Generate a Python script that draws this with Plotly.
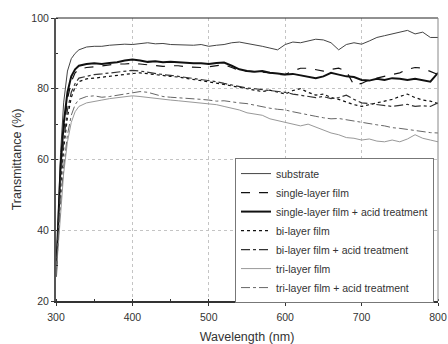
import plotly.graph_objects as go

wavelength = [300, 303, 306, 310, 315, 320, 325, 330] + list(range(340, 801, 10))

substrate = [27, 45, 62, 76, 85, 88.5, 90, 91,
             91.8, 92, 92, 92.3, 92.5, 92.6, 92.5, 92.8, 93, 92.7,
             92.8, 92.5, 92.4, 92.2, 92.3, 92.5, 92, 92.3, 92.5, 93,
             93.2, 92.8, 92.5, 92, 91.5, 91, 92.5, 93.2, 93, 93.5,
             94, 93.8, 93, 91, 92.5, 93, 92.6, 93.5, 94.5, 95,
             95.5, 96, 96.5, 95.5, 96, 94.5, 94.5]

single = [27, 41, 56, 68, 77, 82, 84.5, 85.5,
          86, 86.2, 86.5, 86.8, 87, 87, 87.2, 87, 86.8, 86.5,
          86.3, 86.5, 86.5, 86.2, 86, 86, 86.2, 86.5, 86.8, 86,
          85.2, 85, 84.8, 84.5, 84.5, 84, 84, 85, 85.8, 85.8,
          85.5, 85, 85.5, 85.8, 85, 81, 81.5, 82.5, 83, 83.5,
          84, 84.5, 85.5, 86, 85.8, 85, 84]

single_acid = [27, 42, 58, 70, 79, 83.5, 85.5, 86.5,
               87, 87.2, 87, 87.3, 87.5, 88, 88.3, 88, 87.6, 87.8,
               87.5, 87.6, 87.4, 87.3, 87.2, 87.2, 87, 87.3, 87.4, 86.5,
               85.5, 85, 84.8, 85, 84.5, 84.3, 84, 84.2, 83.8, 83.5,
               83, 83.5, 84.5, 84, 83.5, 83.3, 82.5, 82.3, 82.8, 82.5,
               83, 82.8, 82.5, 82.8, 82.3, 82, 84.5]

bi = [27, 39, 52, 63, 72, 77.5, 80.5, 82,
      82.8, 83, 83.3, 83.5, 83.8, 84, 84.3, 84.5, 84.2, 84,
      83.7, 83.5, 83.3, 83, 82.6, 82.3, 82, 81.6, 81.2, 80.8,
      80.5, 80, 79.5, 79.2, 79.6, 79, 78.5, 79.5, 80, 79,
      78.2, 78.5, 77.5, 77, 76.2, 75.5, 75, 75.5, 76, 76.5,
      77, 77.8, 78.5, 77.5, 76.8, 76.5, 75.8]

bi_acid = [27, 40, 54, 65, 74, 79, 81.5, 83,
           83.5, 84, 84.2, 84.5, 84.8, 85, 85.2, 85, 84.6, 84.3,
           84, 83.8, 83.5, 83.2, 83, 82.5, 82.3, 82, 81.5, 81,
           80.6, 80.2, 80, 79.8, 79.5, 79.2, 79, 78.5, 78.2, 78,
           77.5, 77.8, 77.2, 77.5, 78.2, 77, 76, 75.8, 75.5, 75.2,
           75, 75.3, 75.6, 75, 75.2, 75, 76]

tri = [27, 36, 46, 56, 65, 70.5, 73.5, 75,
       76, 76.5, 76.8, 77.2, 77.5, 77.8, 78, 77.8, 77.5, 77.2,
       77, 76.8, 76.6, 76.4, 76.2, 76, 75.8, 75.5, 75, 74.5,
       74, 73.2, 72.8, 72.5, 71.5, 71, 70.5, 69.8, 69.5, 70,
       69.2, 68.5, 67.5, 67, 66.2, 66, 65.5, 65.8, 65.2, 65,
       65.5, 65, 65.8, 67, 66, 65.5, 65]

tri_acid = [27, 37, 48, 58, 67, 72.5, 75.5, 77,
            77.8, 78, 77.6, 77.8, 78.2, 78.5, 78.8, 79.2, 79, 78.3,
            77.8, 77.6, 77.5, 77.3, 77.2, 77, 76.8, 76.5, 76.6, 76.2,
            76, 75.8, 75.3, 74.8, 74.5, 74.2, 74, 73.5, 73, 72.5,
            72.2, 71.8, 71.5, 71.6, 71.2, 70.8, 70.5, 70, 69.8, 69.5,
            69, 68.8, 68.5, 68.2, 67.8, 67.6, 67.5]

series_names = ["substrate", "single-layer film", "single-layer film + acid treatment",
                "bi-layer film", "bi-layer film + acid treatment",
                "tri-layer film", "tri-layer film + acid treatment"]
series_values = [substrate, single, single_acid, bi, bi_acid, tri, tri_acid]
styles = [
    dict(color="#444444", width=1, dash="solid"),
    dict(color="#111111", width=1.2, dash="dash"),
    dict(color="#111111", width=2, dash="solid"),
    dict(color="#111111", width=1.2, dash="dot"),
    dict(color="#333333", width=1.2, dash="dashdot"),
    dict(color="#999999", width=1, dash="solid"),
    dict(color="#666666", width=1, dash="dashdot"),
]

x_ticks = [300, 400, 500, 600, 700, 800]
y_ticks = [20, 40, 60, 80, 100]

FONT = "Liberation Sans, Arial, sans-serif"

fig = go.Figure()
for name, vals, st in zip(series_names, series_values, styles):
    fig.add_trace(go.Scatter(x=wavelength, y=vals, mode="lines", name=name, line=st))

axis_font = dict(family=FONT, size=10.5, color="#333333")
fig.update_xaxes(
    range=[300, 800], tickvals=x_ticks, showline=True, linecolor="#333333", linewidth=1.5,
    ticks="outside", ticklen=3, tickcolor="#333333", automargin=False, ticklabelstandoff=3,
    minor=dict(ticks="inside", ticklen=2, dtick=50, tick0=300, tickcolor="#333333", showgrid=False),
    showgrid=True, gridcolor="#c4c4c4", griddash="dot", gridwidth=0.8,
    zeroline=False, tickfont=axis_font,
    title=dict(text="Wavelength (nm)", font=dict(family=FONT, size=12.5, color="#333333"), standoff=12),
)
fig.update_yaxes(
    range=[20, 100], tickvals=y_ticks, showline=True, linecolor="#555555", linewidth=2,
    ticks="outside", ticklen=3, tickcolor="#333333", automargin=False,
    minor=dict(ticks="inside", ticklen=2, dtick=10, tick0=20, tickcolor="#333333", showgrid=False),
    showgrid=True, gridcolor="#c4c4c4", griddash="dot", gridwidth=0.8,
    zeroline=False, tickfont=axis_font,
    title=dict(text="Transmittance (%)", font=dict(family=FONT, size=12.5, color="#333333"), standoff=7),
)
# top and right frame lines
fig.add_shape(type="line", xref="paper", yref="paper", x0=0, x1=1, y0=1, y1=1,
              line=dict(color="#222222", width=1))
fig.add_shape(type="line", xref="paper", yref="paper", x0=1, x1=1, y0=0, y1=1,
              line=dict(color="#888888", width=1))

fig.update_layout(
    width=448, height=344,
    margin=dict(l=56, r=10, t=18, b=43),
    paper_bgcolor="white", plot_bgcolor="white",
    showlegend=True,
    legend=dict(x=0.4686, y=0.505, xanchor="left", yanchor="top",
                bgcolor="white", bordercolor="#777777", borderwidth=1,
                font=dict(family=FONT, size=10.5, color="#333333"),
                itemwidth=30, tracegroupgap=0),
)
fig.write_html("out.html", config={"displayModeBar": False},
               post_script="document.body.style.margin='0';document.body.style.overflow='hidden';")
